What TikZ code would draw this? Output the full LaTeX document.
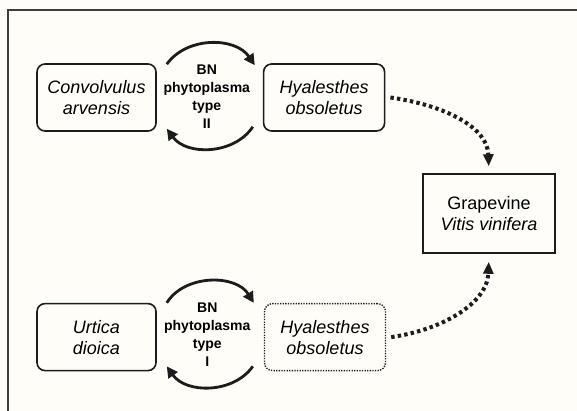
\documentclass[tikz,border=0pt]{standalone}
\usepackage{fontspec}
\setmainfont{Liberation Sans}
\usetikzlibrary{arrows.meta, positioning, calc}
\definecolor{paper}{HTML}{FEFDF7}
\definecolor{ink}{HTML}{1C1C1C}
\tikzset{
  host/.style={
    rectangle, rounded corners=8pt,
    minimum width=119pt, minimum height=67pt, inner sep=0pt,
    align=center, draw=ink, line width=1.6pt,
    font=\fontsize{18}{21}\selectfont\itshape,
  },
  vector/.style={host, minimum width=121pt},
  carrier/.style={vector, line width=1.4pt, dash pattern=on 1.3pt off 1.3pt},
  target/.style={
    rectangle,
    minimum width=132pt, minimum height=79pt, inner sep=0pt,
    align=center, draw=ink, line width=1.6pt,
    font=\fontsize{18}{21}\selectfont,
  },
  strain/.style={align=center, inner sep=0pt, font=\fontsize{14}{18}\selectfont\bfseries},
  cycle/.style={-{Triangle[length=11pt,width=11pt]}, line width=2.8pt, color=ink},
  spread/.style={-{Triangle[length=12pt,width=10pt]}, line width=4pt,
    dash pattern=on 3.4pt off 3.2pt, color=ink},
  frame/.style={draw=ink!85, line width=1.3pt},
}

\begin{document}
\begin{tikzpicture}[x=1pt, y=1pt]

  \fill[paper] (0,0) rectangle (577,411);
  \useasboundingbox (0,0) rectangle (577,411);
  \draw[frame] (577,401) -| (8,0);

  % type II cycle
  \node[host] (conv) at (96.5,313.5) {Convolvulus\\arvensis};
  \node[vector, right=106pt of conv] (hyaTop) {Hyalesthes\\obsoletus};
  \node[strain] (bnII) at ($(conv.east)!0.5!(hyaTop.west)+(-3,1)$) {BN\\phytoplasma\\type\\II};

  % type I cycle
  \node[host, below=171pt of conv] (urt) {Urtica\\dioica};
  \node[carrier, right=107pt of urt] (hyaBot) {Hyalesthes\\obsoletus};
  \node[strain] (bnI) at ($(urt.east)!0.5!(hyaBot.west)+(-3,2)$) {BN\\phytoplasma\\type\\I};

  \node[target] (grape) at (489,197.5) {Grapevine\\\textit{Vitis vinifera}};

  \draw[cycle] ([shift={(10,-1)}]conv.north east) to[bend left=55] ([shift={(-8,-2)}]hyaTop.north west);
  \draw[cycle] ([shift={(-10,5)}]hyaTop.south west) to[bend left=55] ([shift={(10,3)}]conv.south east);
  \draw[cycle] ([shift={(10,0)}]urt.north east) to[bend left=58] ([shift={(-10,0)}]hyaBot.north west);
  \draw[cycle] ([shift={(-11,5)}]hyaBot.south west) to[bend left=55] ([shift={(10,5)}]urt.south east);

  \draw[spread, shorten >=7pt] ([xshift=5pt]hyaTop.east) to[out=-8, in=92] (grape.north);
  \draw[spread, shorten >=8pt] ([xshift=5pt]hyaBot.east) to[out=8, in=-92] (grape.south);

\end{tikzpicture}
\end{document}
